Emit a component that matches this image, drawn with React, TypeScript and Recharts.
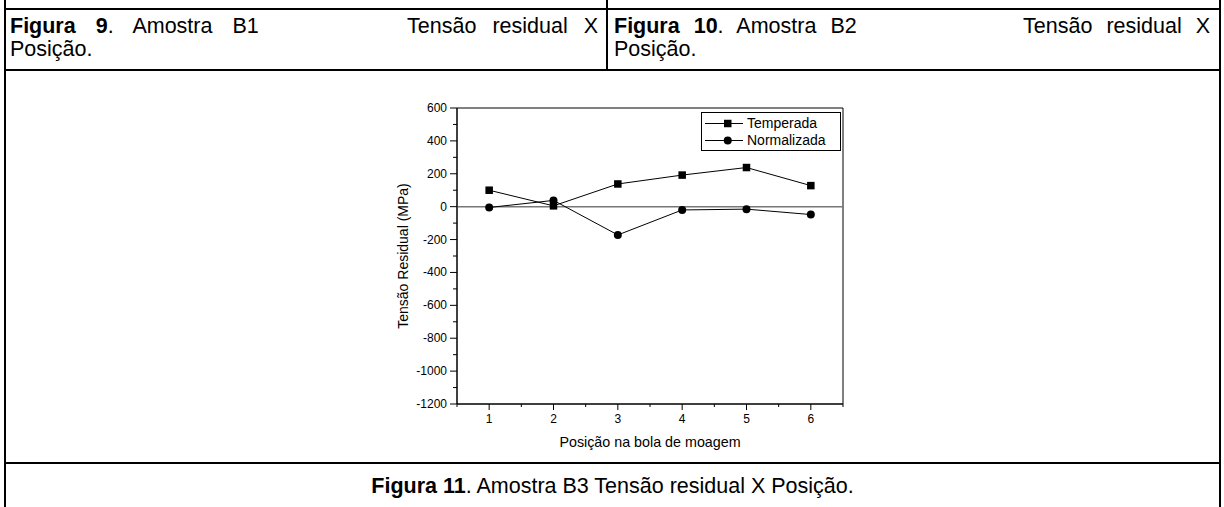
import React from 'react';
import { LineChart, Line, XAxis, YAxis, ReferenceLine, ReferenceArea, Legend } from 'recharts';

const positions = [1, 2, 3, 4, 5, 6];
const temperada = [100, 5, 138, 192, 238, 128];
const normalizada = [-5, 38, -172, -20, -15, -48];
const seriesNames = ['Temperada', 'Normalizada'];
const xTicks = [0.5, 1, 1.5, 2, 2.5, 3, 3.5, 4, 4.5, 5, 5.5, 6, 6.5];
const xLabelTicks = [1, 2, 3, 4, 5, 6];
const yTicks = [-1200, -1100, -1000, -900, -800, -700, -600, -500, -400, -300, -200, -100, 0, 100, 200, 300, 400, 500, 600];
const yLabelTicks = [-1200, -1000, -800, -600, -400, -200, 0, 200, 400, 600];
const xTitle = 'Posição na bola de moagem';
const yTitle = 'Tensão Residual (MPa)';

const data = positions.map((p, i) => ({ pos: p, temperada: temperada[i], normalizada: normalizada[i] }));

const FONT = '"Liberation Sans", Arial, Helvetica, sans-serif';

const XTick = (props: any) => {
  const { x, y, payload } = props;
  const v = payload.value;
  const major = xLabelTicks.includes(v);
  return (
    <g>
      <line x1={x} y1={y} x2={x} y2={y + (major ? 6 : 3)} stroke="#000" strokeWidth={1} />
      {major && (
        <text x={x} y={y + 19} textAnchor="middle" fontSize={12} fill="#000" fontFamily={FONT}>
          {v}
        </text>
      )}
    </g>
  );
};

const YTick = (props: any) => {
  const { x, y, payload } = props;
  const v = payload.value;
  const major = yLabelTicks.includes(v);
  return (
    <g>
      <line x1={x} y1={y} x2={x - (major ? 7 : 4)} y2={y} stroke="#000" strokeWidth={1} />
      {major && (
        <text x={x - 10} y={y} dy={4} textAnchor="end" fontSize={12} fill="#000" fontFamily={FONT}>
          {v}
        </text>
      )}
    </g>
  );
};

const SquareDot = (props: any) => {
  const { cx, cy, index } = props;
  if (cx == null || cy == null) return <g key={`s${index}`} />;
  return <rect key={`s${index}`} x={cx - 3.75} y={cy - 3.75} width={7.5} height={7.5} fill="#000" />;
};

const CircleDot = (props: any) => {
  const { cx, cy, index } = props;
  if (cx == null || cy == null) return <g key={`c${index}`} />;
  return <circle key={`c${index}`} cx={cx} cy={cy} r={4} fill="#000" />;
};

const LegendContent = (props: any) => {
  const items = props.payload || [];
  const ordered = seriesNames.map((name) => items.find((it: any) => it.value === name) || { value: name });
  return (
    <div
      style={{
        border: '1px solid #000',
        background: '#fff',
        width: 140,
        height: 39,
        boxSizing: 'border-box',
        padding: '2px 0 0 2px',
        fontFamily: FONT,
        fontSize: 14,
        color: '#000',
      }}
    >
      {ordered.map((it: any, i: number) => (
        <div key={i} style={{ display: 'flex', alignItems: 'center', height: 17 }}>
          <svg width={40} height={17} style={{ display: 'block' }}>
            <line x1={1} y1={8.5} x2={39} y2={8.5} stroke="#000" strokeWidth={1} />
            {i === 0 ? (
              <rect x={20} y={4.75} width={7.5} height={7.5} fill="#000" />
            ) : (
              <circle cx={23.75} cy={8.5} r={4} fill="#000" />
            )}
          </svg>
          <span style={{ marginLeft: 3, lineHeight: '17px' }}>{it.value}</span>
        </div>
      ))}
    </div>
  );
};

const hLine = (top: number): React.CSSProperties => ({
  position: 'absolute', left: 4, width: 1217, top, height: 2, background: '#000',
});
const vLine = (left: number, top: number, height: number): React.CSSProperties => ({
  position: 'absolute', left, top, width: 2, height, background: '#000',
});

const captionStyle: React.CSSProperties = {
  position: 'absolute',
  fontFamily: FONT,
  fontSize: 21.5,
  lineHeight: '23px',
  color: '#000',
  whiteSpace: 'nowrap',
};

export default function App() {
  return (
    <div style={{ position: 'absolute', left: 0, top: 0, width: 1224, height: 507, background: '#fff', overflow: 'hidden' }}>
      <div style={{ position: 'absolute', left: 0, top: 0 }}>
        <LineChart width={1224} height={507} data={data} margin={{ top: 108, right: 381, bottom: 53, left: 397 }}>
          <XAxis
            dataKey="pos"
            type="number"
            domain={[0.5, 6.5]}
            ticks={xTicks}
            interval={0}
            tickSize={0}
            tickMargin={0}
            tickLine={false}
            height={50}
            axisLine={{ stroke: '#000', strokeWidth: 1 }}
            tick={<XTick />}
            allowDataOverflow
            label={{ value: xTitle, position: 'insideBottom', offset: 7, fontSize: 14.3, fill: '#000', fontFamily: FONT }}
          />
          <YAxis
            type="number"
            domain={[-1200, 600]}
            ticks={yTicks}
            interval={0}
            tickSize={0}
            tickMargin={0}
            tickLine={false}
            width={60}
            axisLine={{ stroke: '#000', strokeWidth: 1 }}
            tick={<YTick />}
            allowDataOverflow
            label={{
              value: yTitle,
              angle: -90,
              position: 'insideLeft',
              offset: 6,
              fontSize: 14,
              fill: '#000',
              fontFamily: FONT,
              style: { textAnchor: 'middle' },
            }}
          />
          <ReferenceArea x1={0.5} x2={6.5} y1={-1200} y2={600} fill="none" fillOpacity={0} stroke="#000" strokeWidth={1} ifOverflow="visible" />
          <ReferenceLine y={0} stroke="#777" strokeWidth={1.5} />
          <Legend
            layout="vertical"
            align="center"
            verticalAlign="middle"
            content={<LegendContent />}
            wrapperStyle={{ position: 'absolute', left: 701, top: 112, width: 140, height: 39 }}
          />
          <Line
            name={seriesNames[0]}
            dataKey="temperada"
            stroke="#000"
            strokeWidth={1}
            dot={<SquareDot />}
            activeDot={false}
            isAnimationActive={false}
          />
          <Line
            name={seriesNames[1]}
            dataKey="normalizada"
            stroke="#000"
            strokeWidth={1}
            dot={<CircleDot />}
            activeDot={false}
            isAnimationActive={false}
          />
        </LineChart>
      </div>

      <div style={hLine(8)} />
      <div style={hLine(69)} />
      <div style={hLine(462)} />
      <div style={vLine(4, 0, 507)} />
      <div style={vLine(1219, 0, 507)} />
      <div style={vLine(606, 0, 70)} />

      <div style={{ ...captionStyle, left: 10, top: 15, width: 588 }}>
        <div style={{ display: 'flex', justifyContent: 'space-between' }}>
          <span style={{ wordSpacing: 14 }}><b>Figura 9</b>. Amostra B1</span>
          <span style={{ wordSpacing: 10 }}>Tensão residual X</span>
        </div>
        <div>Posição.</div>
      </div>

      <div style={{ ...captionStyle, left: 614, top: 15, width: 596 }}>
        <div style={{ display: 'flex', justifyContent: 'space-between' }}>
          <span style={{ wordSpacing: 8 }}><b>Figura 10</b>. Amostra B2</span>
          <span style={{ wordSpacing: 8 }}>Tensão residual X</span>
        </div>
        <div>Posição.</div>
      </div>

      <div style={{ ...captionStyle, left: 6, width: 1213, top: 475, textAlign: 'center' }}>
        <b>Figura 11</b>. Amostra B3 Tensão residual X Posição.
      </div>
    </div>
  );
}
